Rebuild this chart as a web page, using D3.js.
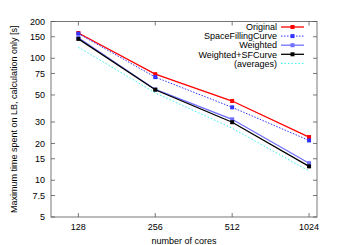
<!DOCTYPE html>
<html>
<head>
<meta charset="utf-8">
<script src="https://cdn.jsdelivr.net/npm/d3@7"></script>
<style>
  body { margin: 0; background: #fff; }
  text { font-family: "Liberation Sans", Arial, sans-serif; fill: #000; }
</style>
</head>
<body>
<svg id="chart" width="346" height="245"></svg>
<script>
// cores on the x axis
const cores = [128, 256, 512, 1024]
const yticks = [5, 7.5, 10, 15, 20, 30, 50, 75, 100, 150, 200]

// seconds
const original = [161, 74, 44.6, 22.6]
const space_filling = [159, 70, 39.6, 21.2]
const weighted = [147, 55.5, 31.6, 13.8]
const weighted_sfc = [144, 55.2, 29.9, 13.0]
const averages = [123, 52, 26.7, 11.9]

const series = [
    {name: "Original", values: original, color: "#ff0000", dash: null, marker: true},
    {name: "SpaceFillingCurve", values: space_filling, color: "#3333ff", dash: "1.5,1.5", marker: true},
    {name: "Weighted", values: weighted, color: "#7070ff", dash: null, marker: true},
    {name: "Weighted+SFCurve", values: weighted_sfc, color: "#000000", dash: null, marker: true},
    {name: "(averages)", values: averages, color: "#33f0f0", dash: "1.5,2", marker: false}
]

const plot_left = 51, plot_right = 317, plot_top = 21.5, plot_bottom = 217
const fs = "9px"
const svg = d3.select("#chart")

const x = d3.scaleLog().base(2).domain([100, 1100]).range([plot_left, plot_right])
const y = d3.scaleLog().domain([5, 200]).range([plot_bottom, plot_top])

// ticks on all four sides, pointing inwards
const frame = svg.append("g").attr("stroke", "#555").attr("stroke-width", 0.8)
yticks.forEach(v => {
    frame.append("line").attr("x1", plot_left).attr("x2", plot_left + 4).attr("y1", y(v)).attr("y2", y(v))
    frame.append("line").attr("x1", plot_right).attr("x2", plot_right - 4).attr("y1", y(v)).attr("y2", y(v))
})
cores.forEach(c => {
    frame.append("line").attr("x1", x(c)).attr("x2", x(c)).attr("y1", plot_bottom).attr("y2", plot_bottom - 4)
    frame.append("line").attr("x1", x(c)).attr("x2", x(c)).attr("y1", plot_top).attr("y2", plot_top + 4)
})
frame.append("rect")
    .attr("x", plot_left).attr("y", plot_top)
    .attr("width", plot_right - plot_left).attr("height", plot_bottom - plot_top)
    .attr("fill", "none")

svg.append("g").selectAll("text")
    .data(yticks)
    .join("text")
    .attr("x", plot_left - 6)
    .attr("y", d => y(d) + 3.2)
    .attr("text-anchor", "end")
    .attr("font-size", fs)
    .text(d => d)

svg.append("g").selectAll("text")
    .data(cores)
    .join("text")
    .attr("x", d => x(d))
    .attr("y", plot_bottom + 13)
    .attr("text-anchor", "middle")
    .attr("font-size", fs)
    .text(d => d)

svg.append("text")
    .attr("x", (plot_left + plot_right) / 2)
    .attr("y", 244)
    .attr("text-anchor", "middle")
    .attr("font-size", fs)
    .text("number of cores")

svg.append("text")
    .attr("transform", `translate(16.5,${(plot_top + plot_bottom) / 2}) rotate(-90)`)
    .attr("text-anchor", "middle")
    .attr("font-size", fs)
    .text("Maximum time spent on LB, calculation only [s]")

const line = d3.line().x((d, i) => x(cores[i])).y(d => y(d))

series.forEach((s, k) => {
    const g = svg.append("g")
    g.append("path")
        .attr("d", line(s.values))
        .attr("fill", "none")
        .attr("stroke", s.color)
        .attr("stroke-width", s.dash ? 1 : 1.3)
        .attr("stroke-dasharray", s.dash)
    if (s.marker) {
        g.selectAll("rect")
            .data(s.values)
            .join("rect")
            .attr("x", (d, i) => x(cores[i]) - 2)
            .attr("y", d => y(d) - 2)
            .attr("width", 4)
            .attr("height", 4)
            .attr("fill", s.color)
    }

    // legend entry
    const ly = 27 + k * 9.1
    svg.append("text")
        .attr("x", 277)
        .attr("y", ly + 3.2)
        .attr("text-anchor", "end")
        .attr("font-size", fs)
        .text(s.name)
    svg.append("line")
        .attr("x1", 281).attr("x2", 304)
        .attr("y1", ly).attr("y2", ly)
        .attr("stroke", s.color)
        .attr("stroke-width", s.dash ? 1 : 1.3)
        .attr("stroke-dasharray", s.dash)
    if (s.marker) {
        svg.append("rect")
            .attr("x", 292.5 - 2).attr("y", ly - 2)
            .attr("width", 4).attr("height", 4)
            .attr("fill", s.color)
    }
})
</script>
</body>
</html>
